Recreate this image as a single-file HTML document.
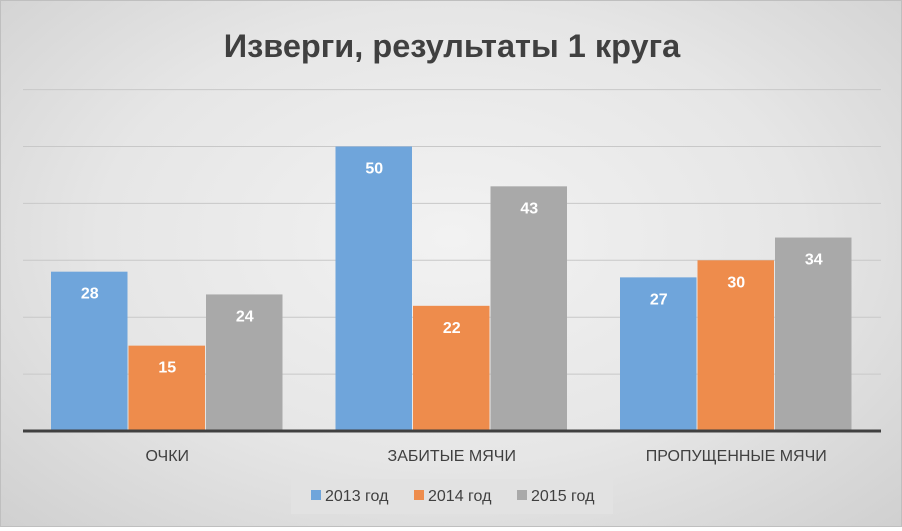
<!DOCTYPE html>
<html><head><meta charset="utf-8"><style>
html,body{margin:0;padding:0}
body{width:902px;height:527px;overflow:hidden;font-family:"Liberation Sans","DejaVu Sans",sans-serif}
#chart{position:relative;width:900px;height:525px;border:1px solid #bfbfbf;background:radial-gradient(ellipse at 50% 45%,#f2f2f2 0%,#e6e6e6 55%,#d0d0d0 100%)}
</style></head><body>
<div id="chart">
<svg id="svg" width="900" height="525" xmlns="http://www.w3.org/2000/svg">
<text x="451" y="56" text-anchor="middle" font-size="32.5" font-weight="bold" fill="#404040">Изверги, результаты 1 круга</text>
<g id="grid"></g><g id="bars"></g><g id="labels"></g>
<rect x="290" y="478" width="322" height="35" fill="#e2e2e2"/>
</svg>
</div>
<script>
const categories=["ОЧКИ","ЗАБИТЫЕ МЯЧИ","ПРОПУЩЕННЫЕ МЯЧИ"];
const seriesNames=["2013 год","2014 год","2015 год"];
const s2013=[28,50,27];
const s2014=[15,22,30];
const s2015=[24,43,34];
const gridTicks=[0,10,20,30,40,50,60];
const series=[s2013,s2014,s2015];
const colors=["#6fa5db","#ee8c4c","#a9a9a9"];
const NS="http://www.w3.org/2000/svg";
const x0=22,x1=880,base=430,ppu=5.69;
const y=v=>base-v*ppu;
const catStart=24,catW=284.5,barW=77.5;
function mk(t,a,p){const e=document.createElementNS(NS,t);for(const k in a)e.setAttribute(k,a[k]);p.appendChild(e);return e;}
const g=document.getElementById('grid'),b=document.getElementById('bars'),l=document.getElementById('labels'),svg=document.getElementById('svg');
gridTicks.forEach(t=>{if(t===0)return;const e=mk('line',{x1:x0,x2:x1,y1:y(t),y2:y(t),stroke:'#c8c8c8','stroke-width':1},g);

});
categories.forEach((c,i)=>{
 const gx=catStart+i*catW+(catW-barW*3)/2;
 series.forEach((s,j)=>{
  const v=s[i],bx=gx+j*barW;
  const r=mk('rect',{x:bx,y:y(v),width:barW-1,height:base-y(v),fill:colors[j]},b);
  
  
  const t=mk('text',{x:bx+barW/2,y:y(v)+27,'text-anchor':'middle','font-size':16,'font-weight':'bold',fill:'#fff'},l);
  t.textContent=v;
  
  
 });
 const ct=mk('text',{x:catStart+i*catW+catW/2,y:460,'text-anchor':'middle','font-size':16,fill:'#404040'},svg);
 ct.textContent=c;
 
 
});
const ax=mk('line',{x1:x0,x2:x1,y1:base,y2:base,stroke:'#404040','stroke-width':3},svg);


const lx=[310,413,516];
seriesNames.forEach((n,j)=>{
 const r=mk('rect',{x:lx[j],y:489,width:10,height:10,fill:colors[j]},svg);
 
 
 const t=mk('text',{x:lx[j]+14,y:500,'font-size':16,fill:'#404040'},svg);
 t.textContent=n;
 
 
});
</script>
</body></html>
